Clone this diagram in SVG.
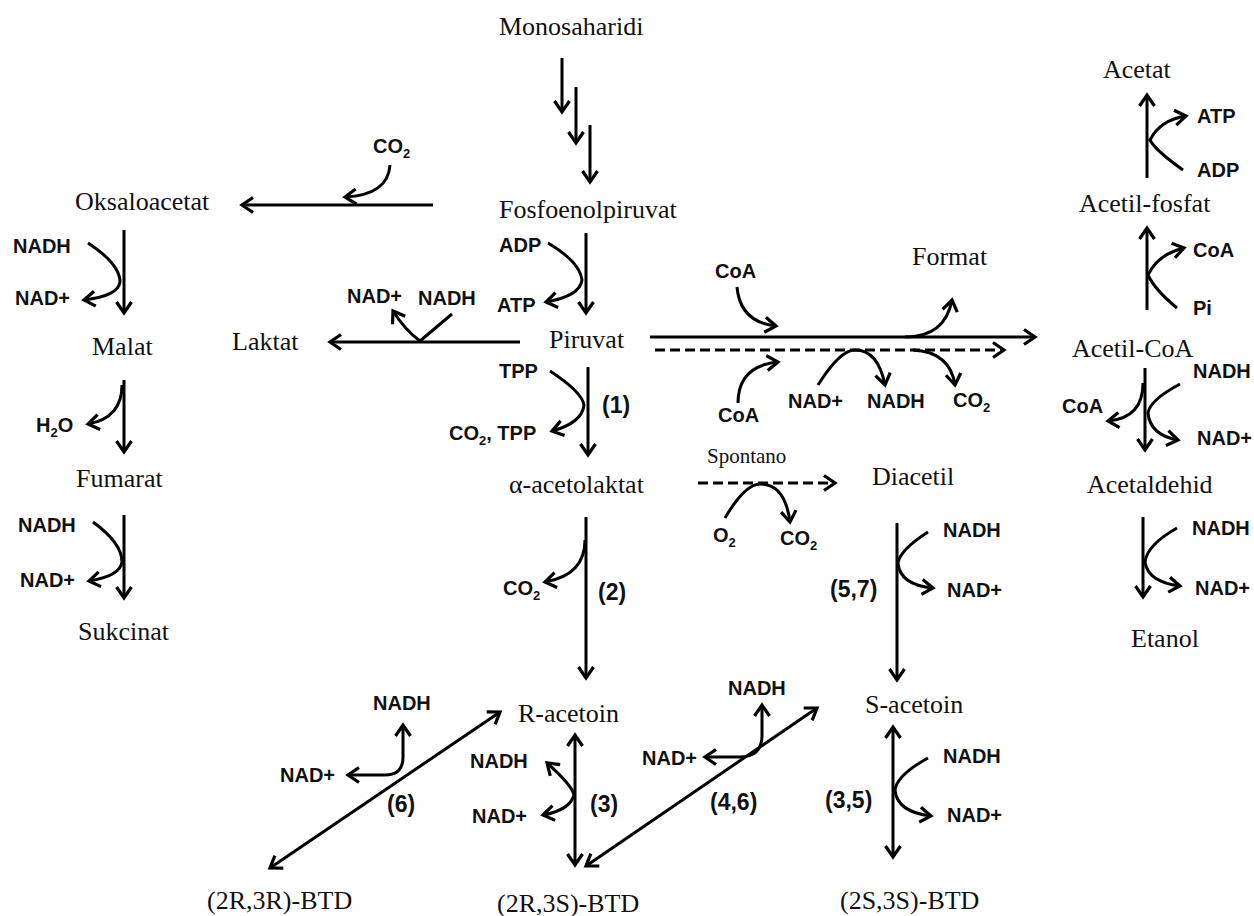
<svg xmlns="http://www.w3.org/2000/svg" width="1254" height="916" viewBox="0 0 1254 916">
<style>
.m{font-family:"Liberation Serif","Times New Roman",serif;font-size:26px;fill:#111}
.c{font-family:"Liberation Sans",Arial,sans-serif;font-weight:bold;font-size:20px;fill:#111}
.n{font-family:"Liberation Sans",Arial,sans-serif;font-weight:bold;font-size:23px;fill:#111}
.sub{font-size:13px}
.ln{fill:none;stroke:#000;stroke-width:3;stroke-linecap:butt}
.a{marker-end:url(#ah)}
.b{marker-start:url(#ah);marker-end:url(#ah)}
.d{stroke-dasharray:10 5}
</style>
<defs>
<marker id="ah" viewBox="0 0 20 20" refX="14" refY="10" markerWidth="20" markerHeight="20" markerUnits="userSpaceOnUse" orient="auto-start-reverse">
<path d="M3,2.5 L14,10 L3,17.5" fill="none" stroke="#000" stroke-width="3.2"/>
</marker>
</defs>
<rect width="1254" height="916" fill="#fff"/>
<g id="connectors">
<path class="ln a" d="M562,58 L562,112"/>
<path class="ln a" d="M576,87 L576,143"/>
<path class="ln a" d="M590,125 L590,182"/>
<path class="ln a" d="M586,233 L586,313"/>
<path class="ln a" d="M548,243 Q580,262 582,280 Q580,296 546,302"/>
<path class="ln a" d="M520,342 L330,342"/>
<path class="ln a" d="M452,314 L420,341 Q405,330 393,311"/>
<path class="ln a" d="M433,205 L242,205"/>
<path class="ln a" d="M390,165 Q388,195 345,197"/>
<path class="ln a" d="M124,230 L124,313"/>
<path class="ln a" d="M88,243 Q120,264 120,282 Q118,296 84,300"/>
<path class="ln a" d="M124,380 L124,452"/>
<path class="ln a" d="M122,385 Q122,418 88,424"/>
<path class="ln a" d="M124,515 L124,598"/>
<path class="ln a" d="M93,522 Q122,543 122,562 Q120,576 89,581"/>
<path class="ln a" d="M588,367 L588,455"/>
<path class="ln a" d="M550,371 Q582,392 584,405 Q582,423 552,431"/>
<path class="ln a" d="M586,517 L586,678"/>
<path class="ln a" d="M585,540 Q585,575 545,582"/>
<path class="ln b" d="M575,735 L575,865"/>
<path class="ln b" d="M547,763 Q572,785 574,795 Q570,810 543,815"/>
<path class="ln b" d="M270,868 L500,712"/>
<path class="ln b" d="M348,775 L385,775 Q403,775 403,757 L403,725"/>
<path class="ln b" d="M586,866 L817,708"/>
<path class="ln b" d="M705,757 L740,757 Q761,757 762,737 L762,705"/>
<path class="ln a d" d="M698,483 L835,483"/>
<path class="ln a" d="M725,518 Q745,484 760,484 Q785,484 790,522"/>
<path class="ln a" d="M897,523 L897,680"/>
<path class="ln a" d="M928,532 Q900,550 898,563 Q900,585 933,588"/>
<path class="ln b" d="M893,727 L893,857"/>
<path class="ln a" d="M928,758 Q897,775 895,790 Q897,812 931,816"/>
<path class="ln a" d="M650,337 L1035,337"/>
<path class="ln a d" d="M655,350 L1004,350"/>
<path class="ln a" d="M737,287 Q740,322 776,326"/>
<path class="ln a" d="M905,337 Q945,337 952,300"/>
<path class="ln a" d="M738,403 Q738,366 778,362"/>
<path class="ln a" d="M818,385 Q840,350 855,350 Q878,350 885,385"/>
<path class="ln a" d="M913,350 Q950,352 955,385"/>
<path class="ln a" d="M1147,178 L1147,95"/>
<path class="ln a" d="M1183,170 Q1155,150 1150,140 Q1160,120 1186,116"/>
<path class="ln a" d="M1147,310 L1147,228"/>
<path class="ln a" d="M1177,308 Q1155,290 1148,275 Q1158,254 1184,248"/>
<path class="ln a" d="M1145,368 L1145,450"/>
<path class="ln a" d="M1143,383 Q1143,418 1108,421"/>
<path class="ln a" d="M1180,384 Q1150,400 1148,413 Q1150,435 1178,440"/>
<path class="ln a" d="M1143,517 L1143,597"/>
<path class="ln a" d="M1177,528 Q1147,545 1145,562 Q1148,582 1180,586"/>
</g>
<g id="monosaharidi"><text class="m" x="499" y="35">Monosaharidi</text></g>
<g id="fosfoenolpiruvat"><text class="m" x="499" y="218">Fosfoenolpiruvat</text></g>
<g id="piruvat"><text class="m" x="549" y="348">Piruvat</text></g>
<g id="oksaloacetat"><text class="m" x="75" y="210">Oksaloacetat</text></g>
<g id="laktat"><text class="m" x="232" y="350">Laktat</text></g>
<g id="malat"><text class="m" x="92" y="355">Malat</text></g>
<g id="fumarat"><text class="m" x="76" y="487">Fumarat</text></g>
<g id="sukcinat"><text class="m" x="78" y="640">Sukcinat</text></g>
<g id="acetolaktat"><text class="m" x="509" y="493">α-acetolaktat</text></g>
<g id="format"><text class="m" x="912" y="265">Format</text></g>
<g id="diacetil"><text class="m" x="872" y="485">Diacetil</text></g>
<g id="r-acetoin"><text class="m" x="518" y="722">R-acetoin</text></g>
<g id="s-acetoin"><text class="m" x="865" y="713">S-acetoin</text></g>
<g id="btd-2r3r"><text class="m" x="207" y="909">(2R,3R)-BTD</text></g>
<g id="btd-2r3s"><text class="m" x="497" y="912">(2R,3S)-BTD</text></g>
<g id="btd-2s3s"><text class="m" x="840" y="909">(2S,3S)-BTD</text></g>
<g id="acetat"><text class="m" x="1103" y="78">Acetat</text></g>
<g id="acetil-fosfat"><text class="m" x="1079" y="212">Acetil-fosfat</text></g>
<g id="acetil-coa"><text class="m" x="1072" y="357">Acetil-CoA</text></g>
<g id="acetaldehid"><text class="m" x="1087" y="493">Acetaldehid</text></g>
<g id="etanol"><text class="m" x="1131" y="647">Etanol</text></g>
<g id="spontano"><text class="m" x="707" y="463" style="font-size:21px">Spontano</text></g>
<g id="cofactors">
<text class="c" x="499" y="252">ADP</text>
<text class="c" x="497" y="312">ATP</text>
<text class="c" x="499" y="378">TPP</text>
<text class="c" x="449" y="440">CO<tspan class="sub" dy="5">2</tspan><tspan dy="-5">, TPP</tspan></text>
<text class="c" x="503" y="595">CO<tspan class="sub" dy="5">2</tspan></text>
<text class="c" x="347" y="303">NAD+</text>
<text class="c" x="418" y="305">NADH</text>
<text class="c" x="373" y="153">CO<tspan class="sub" dy="5">2</tspan></text>
<text class="c" x="13" y="253">NADH</text>
<text class="c" x="15" y="305">NAD+</text>
<text class="c" x="36" y="432">H<tspan class="sub" dy="5">2</tspan><tspan dy="-5">O</tspan></text>
<text class="c" x="18" y="532">NADH</text>
<text class="c" x="20" y="587">NAD+</text>
<text class="c" x="715" y="278">CoA</text>
<text class="c" x="718" y="422">CoA</text>
<text class="c" x="788" y="408">NAD+</text>
<text class="c" x="867" y="408">NADH</text>
<text class="c" x="953" y="407">CO<tspan class="sub" dy="5">2</tspan></text>
<text class="c" x="1197" y="123">ATP</text>
<text class="c" x="1197" y="177">ADP</text>
<text class="c" x="1193" y="257">CoA</text>
<text class="c" x="1193" y="315">Pi</text>
<text class="c" x="1193" y="378">NADH</text>
<text class="c" x="1062" y="413">CoA</text>
<text class="c" x="1197" y="445">NAD+</text>
<text class="c" x="1192" y="535">NADH</text>
<text class="c" x="1195" y="595">NAD+</text>
<text class="c" x="713" y="542">O<tspan class="sub" dy="5">2</tspan></text>
<text class="c" x="780" y="545">CO<tspan class="sub" dy="5">2</tspan></text>
<text class="c" x="943" y="537">NADH</text>
<text class="c" x="947" y="597">NAD+</text>
<text class="c" x="943" y="763">NADH</text>
<text class="c" x="947" y="822">NAD+</text>
<text class="c" x="373" y="710">NADH</text>
<text class="c" x="280" y="782">NAD+</text>
<text class="c" x="470" y="768">NADH</text>
<text class="c" x="472" y="823">NAD+</text>
<text class="c" x="728" y="695">NADH</text>
<text class="c" x="642" y="765">NAD+</text>
</g>
<g id="enzymes">
<text class="n" x="602" y="413">(1)</text>
<text class="n" x="598" y="600">(2)</text>
<text class="n" x="830" y="597">(5,7)</text>
<text class="n" x="825" y="808">(3,5)</text>
<text class="n" x="387" y="812">(6)</text>
<text class="n" x="590" y="812">(3)</text>
<text class="n" x="710" y="810">(4,6)</text>
</g>
</svg>
